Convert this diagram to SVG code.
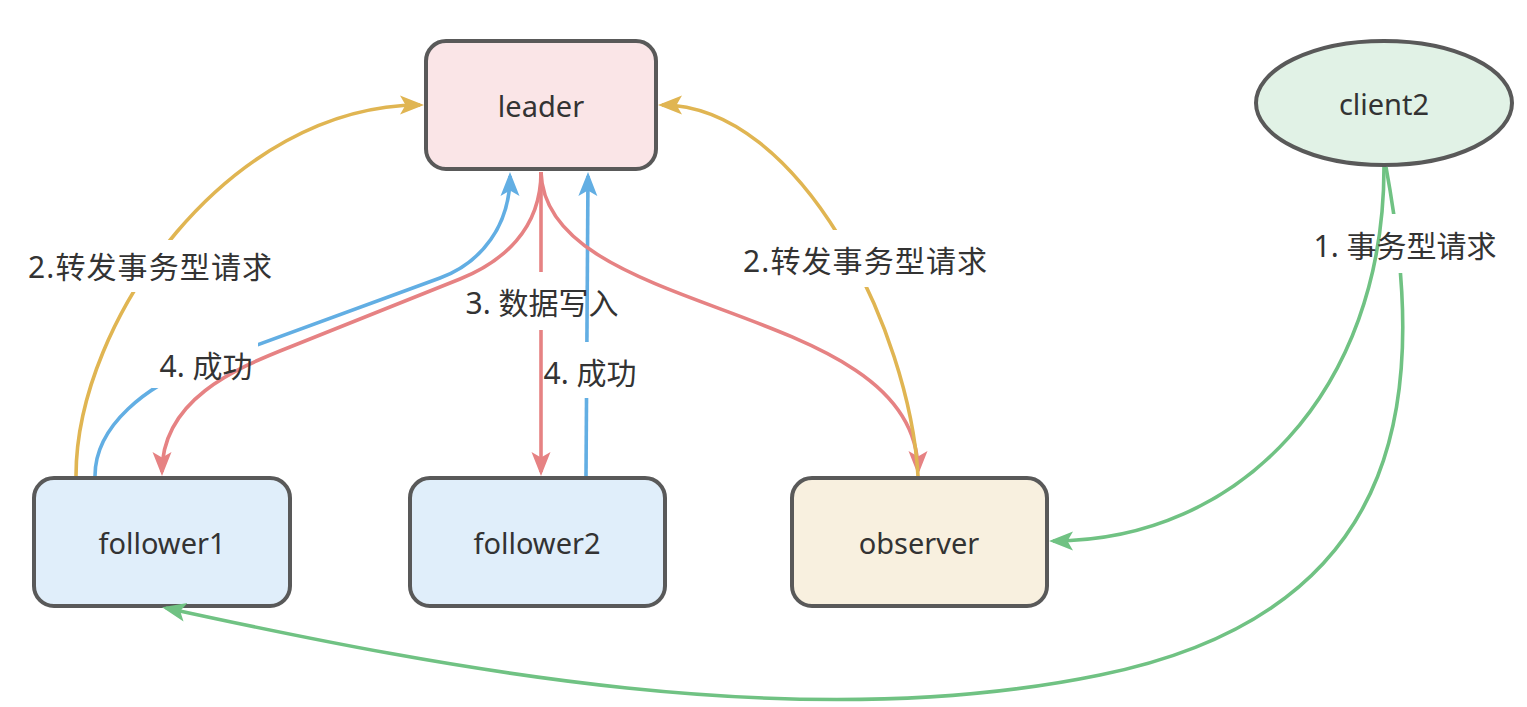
<svg xmlns="http://www.w3.org/2000/svg" width="1527" height="707" viewBox="0 0 1527 707">
  <style>
    .node { stroke: #595959; stroke-width: 4; }
    .lbl { font-family: "Noto Sans", "Noto Sans CJK SC", sans-serif; font-size: 29px; fill: #333333; text-anchor: middle; dominant-baseline: central; }
    .elbl { font-family: "Noto Sans", "Noto Sans CJK SC", sans-serif; font-size: 30px; fill: #333333; text-anchor: middle; dominant-baseline: central; }
    .edge { fill: none; stroke-width: 3.6; }
    .y { stroke: #E0B552; }
    .b { stroke: #62AEE3; }
    .r { stroke: #E68283; }
    .g { stroke: #70C283; }
  </style>
  <defs>
    <marker id="ay" markerUnits="userSpaceOnUse" markerWidth="26" markerHeight="22" viewBox="0 0 26 22" refX="20" refY="11" orient="auto">
      <path d="M0,1.5 L24,11 L0,20.5 L5.5,11 Z" fill="#E0B552"/>
    </marker>
    <marker id="ab" markerUnits="userSpaceOnUse" markerWidth="26" markerHeight="22" viewBox="0 0 26 22" refX="20" refY="11" orient="auto">
      <path d="M0,1.5 L24,11 L0,20.5 L5.5,11 Z" fill="#62AEE3"/>
    </marker>
    <marker id="ar" markerUnits="userSpaceOnUse" markerWidth="26" markerHeight="22" viewBox="0 0 26 22" refX="20" refY="11" orient="auto">
      <path d="M0,1.5 L24,11 L0,20.5 L5.5,11 Z" fill="#E68283"/>
    </marker>
    <marker id="ag" markerUnits="userSpaceOnUse" markerWidth="26" markerHeight="22" viewBox="0 0 26 22" refX="20" refY="11" orient="auto">
      <path d="M0,1.5 L24,11 L0,20.5 L5.5,11 Z" fill="#70C283"/>
    </marker>
    <mask id="m-y1" maskUnits="userSpaceOnUse" x="0" y="0" width="1527" height="707">
      <rect x="0" y="0" width="1527" height="707" fill="#fff"/>
      <rect x="20" y="240" width="262" height="52" fill="#000"/>
    </mask>
    <mask id="m-y2" maskUnits="userSpaceOnUse" x="0" y="0" width="1527" height="707">
      <rect x="0" y="0" width="1527" height="707" fill="#fff"/>
      <rect x="735" y="230" width="262" height="57" fill="#000"/>
    </mask>
    <mask id="m-b1" maskUnits="userSpaceOnUse" x="0" y="0" width="1527" height="707">
      <rect x="0" y="0" width="1527" height="707" fill="#fff"/>
      <rect x="152" y="342" width="106" height="46" fill="#000"/>
    </mask>
    <mask id="m-r2" maskUnits="userSpaceOnUse" x="0" y="0" width="1527" height="707">
      <rect x="0" y="0" width="1527" height="707" fill="#fff"/>
      <rect x="455" y="272" width="175" height="58" fill="#000"/>
    </mask>
    <mask id="m-b2" maskUnits="userSpaceOnUse" x="0" y="0" width="1527" height="707">
      <rect x="0" y="0" width="1527" height="707" fill="#fff"/>
      <rect x="535" y="342" width="110" height="56" fill="#000"/>
    </mask>
    <mask id="m-g2" maskUnits="userSpaceOnUse" x="0" y="0" width="1527" height="707">
      <rect x="0" y="0" width="1527" height="707" fill="#fff"/>
      <rect x="1300" y="214" width="205" height="59" fill="#000"/>
    </mask>
  </defs>

  <rect x="0" y="0" width="1527" height="707" fill="#ffffff"/>

  <g id="leader">
    <rect class="node" x="426" y="41" width="230" height="128" rx="20" fill="#FAE5E7"/>
    <text class="lbl" x="541" y="105">leader</text>
  </g>
  <g id="follower1">
    <rect class="node" x="34" y="478" width="256" height="128" rx="20" fill="#E0EEFA"/>
    <text class="lbl" x="162" y="542">follower1</text>
  </g>
  <g id="follower2">
    <rect class="node" x="410" y="478" width="255" height="128" rx="20" fill="#E0EEFA"/>
    <text class="lbl" x="537" y="542">follower2</text>
  </g>
  <g id="observer">
    <rect class="node" x="792" y="478" width="255" height="128" rx="20" fill="#F8F0DF"/>
    <text class="lbl" x="919" y="542">observer</text>
  </g>
  <g id="client2">
    <ellipse class="node" cx="1384" cy="103" rx="128" ry="62" fill="#E1F2E6"/>
    <text class="lbl" x="1384" y="103">client2</text>
  </g>

  <g id="connectors">
    <path class="edge b" mask="url(#m-b1)" marker-end="url(#ab)" d="M95,476 C95,425 148,385 200,366 L440,278 C482,262.5 510,225 510,176"/>
    <path class="edge r" marker-end="url(#ar)" d="M541,172 C541,230 502,262 460,279 L290,347 C234,369 162,400 162,472"/>
    <path class="edge r" mask="url(#m-r2)" marker-end="url(#ar)" d="M541,172 L541,472"/>
    <path class="edge b" mask="url(#m-b2)" marker-end="url(#ab)" d="M586,476 L588,176"/>
    <path class="edge r" marker-end="url(#ar)" d="M541,172 C545,320 918,300 918,471"/>
    <path class="edge y" mask="url(#m-y1)" marker-end="url(#ay)" d="M76,476 C76,320 230,105 420,105"/>
    <path class="edge y" mask="url(#m-y2)" marker-end="url(#ay)" d="M918,476 C910,330 800,105 662,105"/>
    <path class="edge g" mask="url(#m-g2)" marker-end="url(#ag)" d="M1386,167 C1425,380 1420,610 1100,675 C800,737 450,670 166,608"/>
    <path class="edge g" marker-end="url(#ag)" d="M1384,167 C1384,390 1240,541 1053,541"/>

    <text class="elbl" x="150" y="266" textLength="244" lengthAdjust="spacing">2.转发事务型请求</text>
    <text class="elbl" x="865" y="260" textLength="244" lengthAdjust="spacing">2.转发事务型请求</text>
    <text class="elbl" x="542" y="302">3. 数据写入</text>
    <text class="elbl" x="206" y="365">4. 成功</text>
    <text class="elbl" x="590" y="372">4. 成功</text>
    <text class="elbl" x="1405" y="245">1. 事务型请求</text>
  </g>
</svg>
